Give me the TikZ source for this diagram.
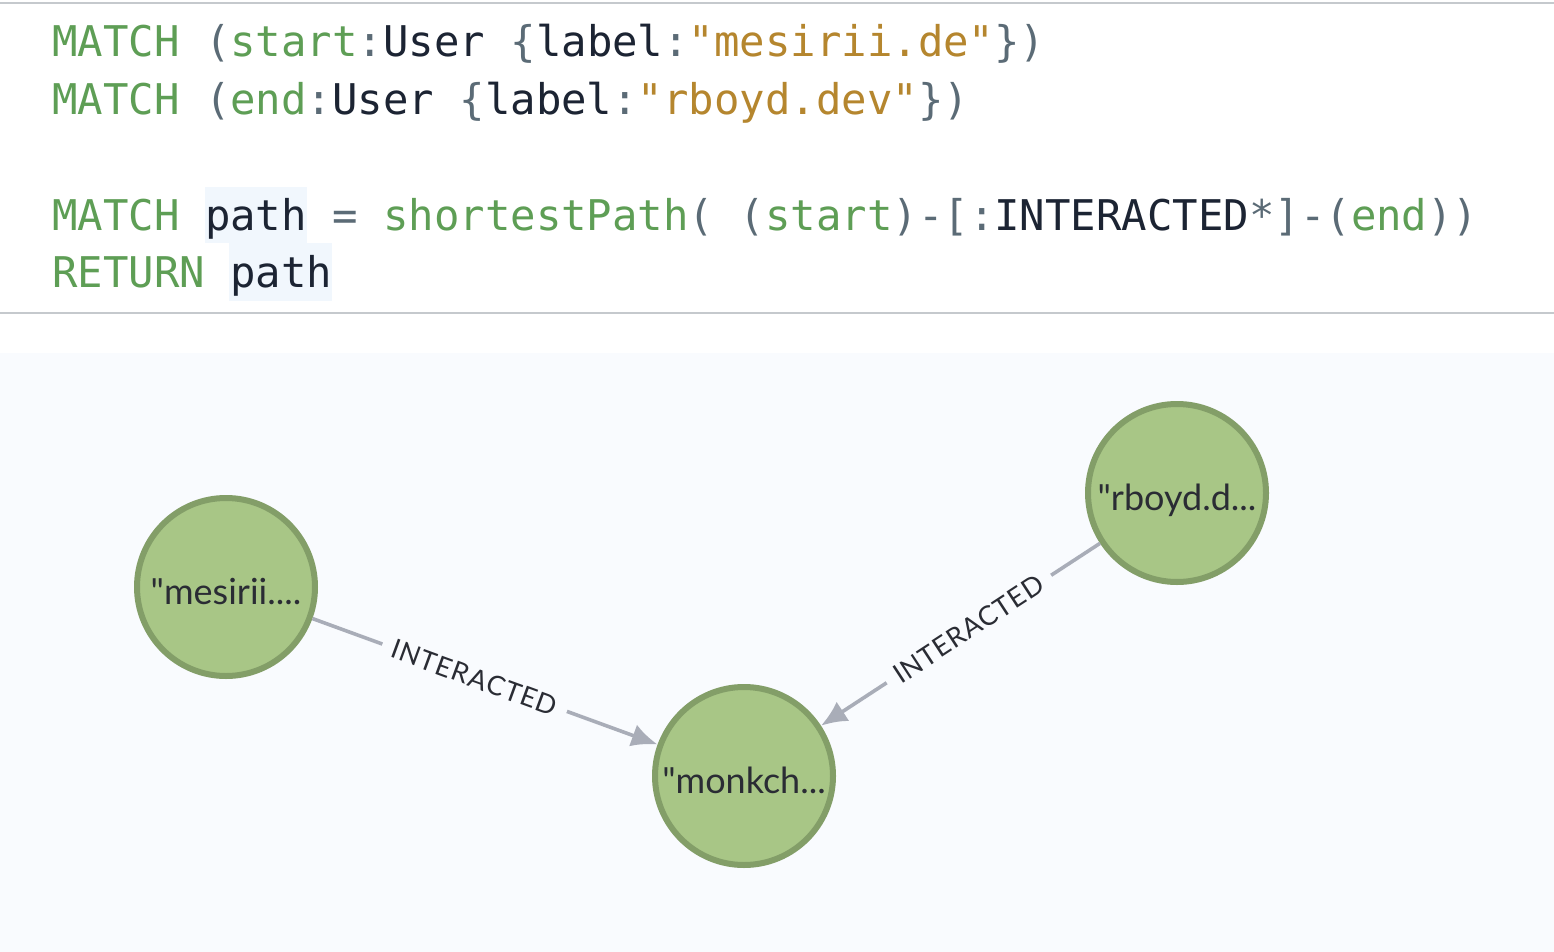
\documentclass[tikz,border=0pt]{standalone}
\usepackage{fontspec}
\setmonofont{DejaVu Sans Mono}
\newfontfamily\lato{Lato}
\usetikzlibrary{arrows.meta}
\definecolor{kw}{HTML}{5E9E55}
\definecolor{tx}{HTML}{1C2433}
\definecolor{pu}{HTML}{5B6B76}
\definecolor{st}{HTML}{B5862E}
\definecolor{hl}{HTML}{F1F7FD}
\definecolor{rule}{HTML}{C5C9CD}
\definecolor{gbg}{HTML}{F9FBFE}
\definecolor{nfill}{HTML}{A8C686}
\definecolor{nline}{HTML}{839E68}
\definecolor{edge}{HTML}{A9ADB8}
\definecolor{ntext}{HTML}{2A2C34}
\newcommand{\K}[1]{\textcolor{kw}{#1}}
\newcommand{\T}[1]{\textcolor{tx}{#1}}
\newcommand{\PU}[1]{\textcolor{pu}{#1}}
\newcommand{\ST}[1]{\textcolor{st}{#1}}
\newcommand{\nlab}[1]{\raisebox{-17pt}[0pt][0pt]{#1}}
\tikzset{
  codeline/.style={anchor=base west, inner sep=0pt, font=\ttfamily\fontsize{42.3}{50}\selectfont},
  usernode/.style={circle, draw=nline, fill=nfill, line width=6pt, minimum size=178pt, inner sep=0pt,
    font=\lato\fontsize{36}{42}\selectfont, text=ntext},
  rel/.style={draw=edge, line width=3.6pt, -{Latex[length=26pt,width=23pt]}},
  rellabel/.style={fill=gbg, inner sep=11pt, pos=0.47, font=\lato\addfontfeature{LetterSpace=4}\fontsize{27}{32}\selectfont, text=ntext},
}
\begin{document}
\begin{tikzpicture}[x=1pt,y=-1pt]
\useasboundingbox (0,0) rectangle (1554,952);
\fill[white] (0,0) rectangle (1554,952);
% rules
\draw[rule, line width=2pt] (0,3) -- (1554,3);
\draw[rule, line width=2pt] (0,313) -- (1554,313);
% graph background
\fill[gbg] (0,353) rectangle (1554,952);
% highlight boxes
\fill[hl] (205,187) rectangle (307,243);
\fill[hl] (229,243) rectangle (332,301);
% code
\node[codeline] (l1) at (52,57) {\K{MATCH} \PU{(}\K{start}\PU{:}\T{User} \PU{\{}\T{label}\PU{:}\ST{"mesirii.de"}\PU{\})}};
\node[codeline] (l2) at (52,115) {\K{MATCH} \PU{(}\K{end}\PU{:}\T{User} \PU{\{}\T{label}\PU{:}\ST{"rboyd.dev"}\PU{\})}};
\node[codeline] (l4) at (52,230) {\K{MATCH} \T{path} \PU{=} \K{shortestPath}\PU{(} \PU{(}\K{start}\PU{)-[:}\T{INTERACTED}\PU{*]-(}\K{end}\PU{))}};
\node[codeline] (l5) at (52,287) {\K{RETURN} \T{path}};
% nodes
\node[usernode] (mes) at (226,587) {\nlab{"mesirii....}};
\node[usernode] (rb) at (1177,493) {\nlab{"rboyd.d...}};
\node[usernode] (mk) at (744,776) {\nlab{"monkch...}};
% edges
\draw[rel] (mes) -- node[rellabel, sloped] {INTERACTED} (mk);
\draw[rel] (rb) -- node[rellabel, sloped] {INTERACTED} (mk);
\end{tikzpicture}
\end{document}
